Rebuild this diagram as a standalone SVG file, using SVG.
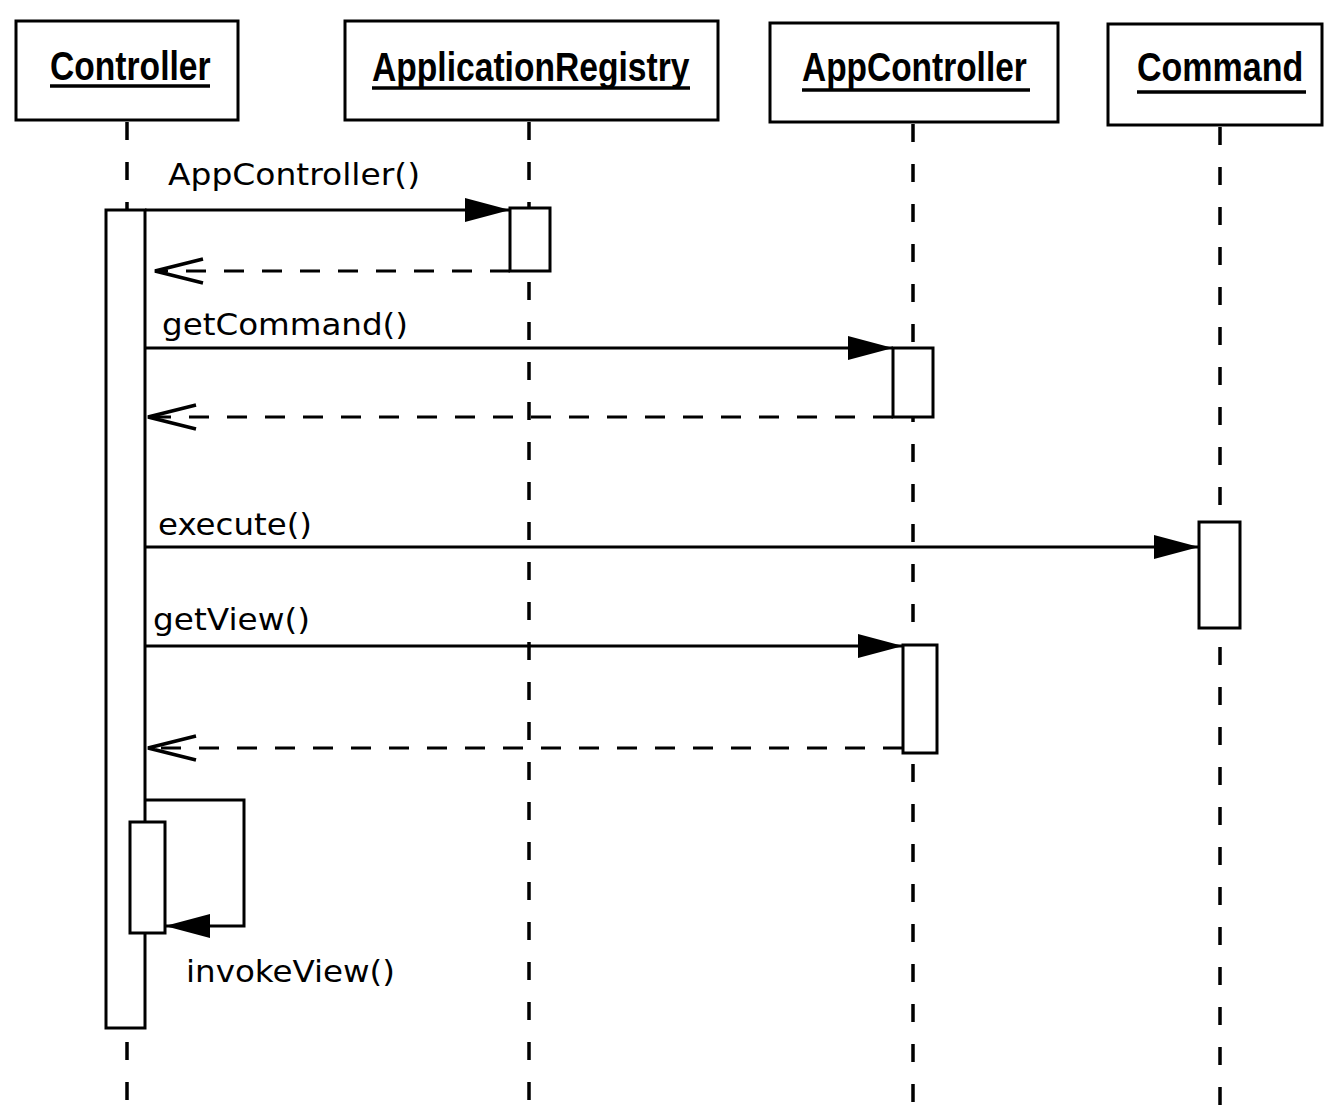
<svg xmlns="http://www.w3.org/2000/svg" width="1324" height="1119" viewBox="0 0 1324 1119">
<defs>
<style>
.box{fill:#fff;stroke:#000;stroke-width:3}
.hdr{font-family:"Liberation Sans",Arial,sans-serif;font-weight:bold;font-size:41px;fill:#000}
.ul{stroke:#000;stroke-width:3.5}
.life{stroke:#000;stroke-width:3.5;stroke-dasharray:18 22;fill:none}
.act{fill:#fff;stroke:#000;stroke-width:3}
.msg{stroke:#000;stroke-width:3;fill:none}
.ret{stroke:#000;stroke-width:3;fill:none;stroke-dasharray:20 18}
.lbl{font-family:"DejaVu Sans",sans-serif;font-size:31px;fill:#000}
</style>
<marker id="filled" markerWidth="46" markerHeight="26" refX="45" refY="13" orient="auto" markerUnits="userSpaceOnUse">
<path d="M0,1 L45,13 L0,25 Z" fill="#000"/>
</marker>
<marker id="open" markerWidth="54" markerHeight="30" refX="50" refY="15" orient="auto" markerUnits="userSpaceOnUse">
<path d="M2,3 L50,15 L2,27" fill="none" stroke="#000" stroke-width="3.5"/>
</marker>
</defs>
<rect width="1324" height="1119" fill="#fff"/>

<g id="lifelines">
<line class="life" x1="127" y1="122" x2="127" y2="1119"/>
<line class="life" x1="529" y1="122" x2="529" y2="1119"/>
<line class="life" x1="913" y1="124" x2="913" y2="1119"/>
<line class="life" x1="1220" y1="127" x2="1220" y2="1119"/>
</g>

<g id="node-controller">
<rect class="box" x="16" y="21" width="222" height="99"/>
<text class="hdr" transform="translate(50,80) scale(0.82,1)">Controller</text>
<line class="ul" x1="50" y1="86" x2="210" y2="86"/>
</g>
<g id="node-applicationregistry">
<rect class="box" x="345" y="21" width="373" height="99"/>
<text class="hdr" transform="translate(372,81) scale(0.82,1)">ApplicationRegistry</text>
<line class="ul" x1="372" y1="88" x2="690" y2="88"/>
</g>
<g id="node-appcontroller">
<rect class="box" x="770" y="23" width="288" height="99"/>
<text class="hdr" transform="translate(802,81) scale(0.816,1)">AppController</text>
<line class="ul" x1="802" y1="90" x2="1030" y2="90"/>
</g>
<g id="node-command">
<rect class="box" x="1108" y="24" width="214" height="101"/>
<text class="hdr" transform="translate(1137,81) scale(0.83,1)">Command</text>
<line class="ul" x1="1137" y1="92" x2="1306" y2="92"/>
</g>

<g id="activations">
<rect class="act" x="106" y="210" width="39" height="818"/>
<rect class="act" x="510" y="208" width="40" height="63"/>
<rect class="act" x="893" y="348" width="40" height="69"/>
<rect class="act" x="1199" y="522" width="41" height="106"/>
<rect class="act" x="903" y="645" width="34" height="108"/>
<rect class="act" x="130" y="822" width="35" height="111"/>
</g>

<g id="connectors">
<line class="msg" x1="145" y1="210" x2="510" y2="210" marker-end="url(#filled)"/>
<line class="ret" x1="510" y1="271" x2="155" y2="271" marker-end="url(#open)"/>
<line class="msg" x1="145" y1="348" x2="893" y2="348" marker-end="url(#filled)"/>
<line class="ret" x1="893" y1="417" x2="148" y2="417" marker-end="url(#open)"/>
<line class="msg" x1="145" y1="547" x2="1199" y2="547" marker-end="url(#filled)"/>
<line class="msg" x1="145" y1="646" x2="903" y2="646" marker-end="url(#filled)"/>
<line class="ret" x1="903" y1="748" x2="148" y2="748" marker-end="url(#open)"/>
<polyline class="msg" points="145,800 244,800 244,926 165,926" marker-end="url(#filled)"/>
</g>

<g id="labels">
<text class="lbl" x="168" y="185" textLength="252" lengthAdjust="spacingAndGlyphs">AppController()</text>
<text class="lbl" x="162" y="335" textLength="246" lengthAdjust="spacingAndGlyphs">getCommand()</text>
<text class="lbl" x="158" y="535" textLength="154" lengthAdjust="spacingAndGlyphs">execute()</text>
<text class="lbl" x="153" y="630" textLength="157" lengthAdjust="spacingAndGlyphs">getView()</text>
<text class="lbl" x="186" y="982" textLength="209" lengthAdjust="spacingAndGlyphs">invokeView()</text>
</g>
</svg>
